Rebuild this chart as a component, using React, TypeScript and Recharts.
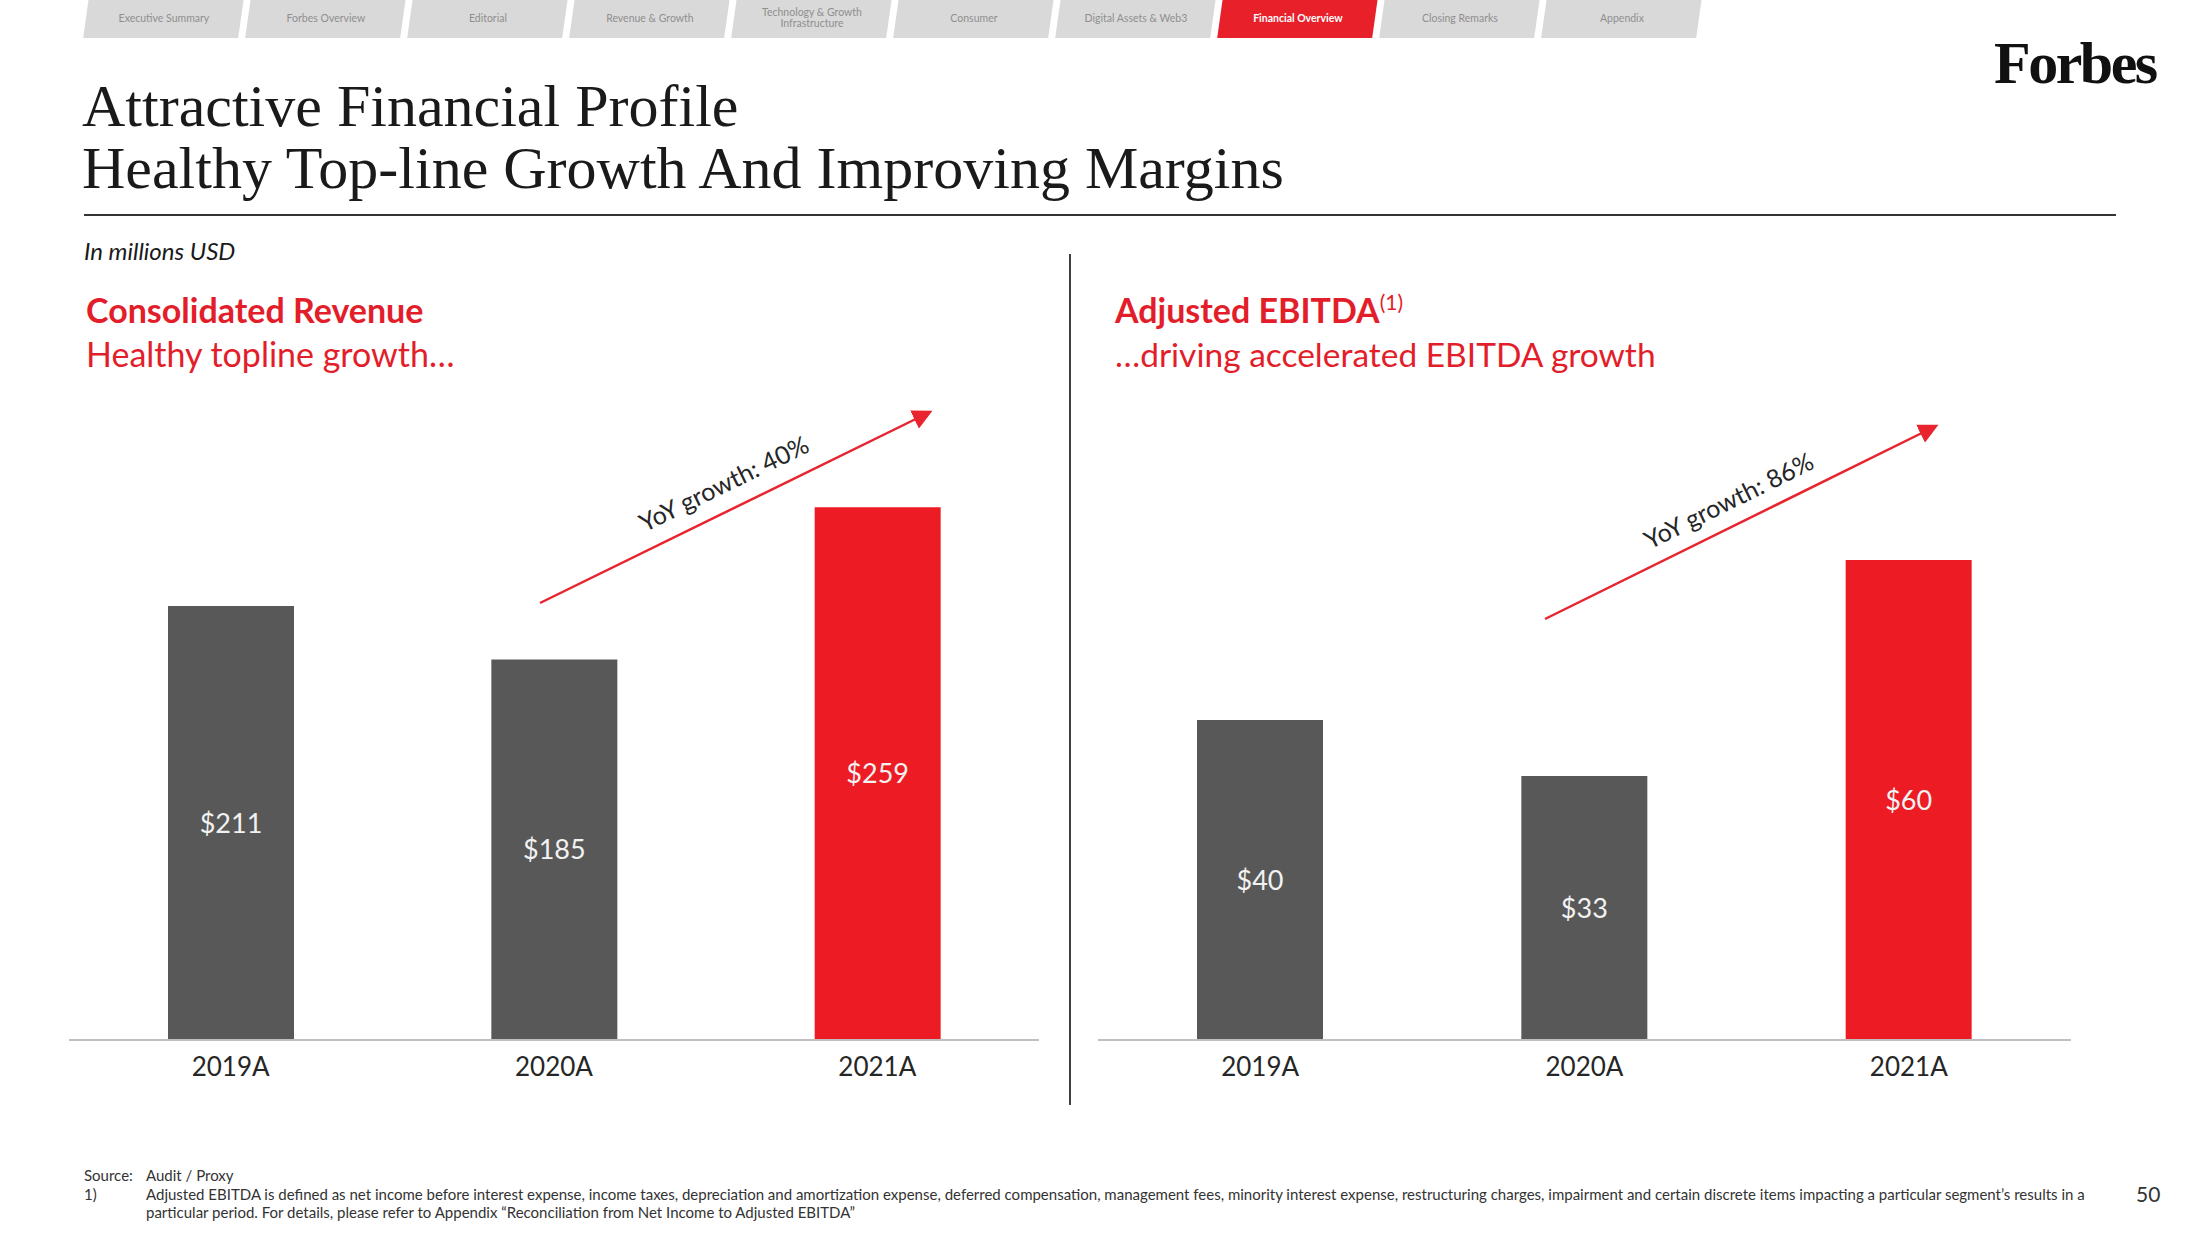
import React from 'react';
import { BarChart, Bar, XAxis, YAxis, Cell, LabelList } from 'recharts';

// values (millions USD)
const years = ['2019A', '2020A', '2021A'];
const revenue = [211, 185, 259];
const ebitda = [40, 33, 60];
const barColors = ['#585858', '#585858', '#ED1C24'];
const revenueGrowth = 'YoY growth: 40%';
const ebitdaGrowth = 'YoY growth: 86%';

const navTabs = [
  'Executive Summary',
  'Forbes Overview',
  'Editorial',
  'Revenue & Growth',
  'Technology & Growth Infrastructure',
  'Consumer',
  'Digital Assets & Web3',
  'Financial Overview',
  'Closing Remarks',
  'Appendix',
];
const activeTab = 'Financial Overview';

const RED = '#E31E2B';
const FONT = 'Lato, "Open Sans", sans-serif';

const revenueData = years.map((y, i) => ({ year: y, value: revenue[i] }));
const ebitdaData = years.map((y, i) => ({ year: y, value: ebitda[i] }));

type PanelProps = {
  data: { year: string; value: number }[];
  max: number;
  left: number;
  top: number;
  width: number;
  plotHeight: number;
};

const Panel = ({ data, max, left, top, width, plotHeight }: PanelProps) => (
  <div style={{ position: 'absolute', left, top }}>
    <BarChart
      width={width}
      height={plotHeight + 50}
      data={data}
      margin={{ top: 0, right: 0, bottom: 0, left: 0 }}
    >
      <XAxis
        dataKey="year"
        interval={0}
        height={50}
        tickLine={false}
        tickMargin={12}
        axisLine={{ stroke: '#bfbfbf', strokeWidth: 2 }}
        tick={{ fontSize: 26, fill: '#262626', fontFamily: FONT }}
      />
      <YAxis hide domain={[0, max]} />
      <Bar dataKey="value" barSize={126} isAnimationActive={false}>
        {data.map((d, i) => (
          <Cell key={d.year} fill={barColors[i]} />
        ))}
        <LabelList
          dataKey="value"
          position="center"
          formatter={(v: any) => `$${v}`}
          style={{ fontSize: 27, fill: '#f2f2f2', fontFamily: FONT }}
        />
      </Bar>
    </BarChart>
  </div>
);

const GrowthArrows = () => (
  <svg
    width={2200}
    height={1238}
    style={{ position: 'absolute', left: 0, top: 0, pointerEvents: 'none' }}
  >
    <defs>
      <marker id="head" markerWidth="8" markerHeight="8" refX="6" refY="4" orient="auto" markerUnits="strokeWidth">
        <path d="M0,0 L8,4 L0,8 z" fill="#E8242F" />
      </marker>
    </defs>
    <line x1={540} y1={603} x2={928} y2={413} stroke="#E8242F" strokeWidth={2.5} markerEnd="url(#head)" />
    <text
      x={725}
      y={486}
      textAnchor="middle"
      dominantBaseline="middle"
      transform="rotate(-26.1 725 486)"
      style={{ fontSize: 25, fill: '#262626', fontFamily: FONT }}
    >
      {revenueGrowth}
    </text>
    <line x1={1545} y1={619} x2={1934} y2={427} stroke="#E8242F" strokeWidth={2.5} markerEnd="url(#head)" />
    <text
      x={1730}
      y={503}
      textAnchor="middle"
      dominantBaseline="middle"
      transform="rotate(-26.3 1730 503)"
      style={{ fontSize: 25, fill: '#262626', fontFamily: FONT }}
    >
      {ebitdaGrowth}
    </text>
  </svg>
);

const App = () => {
  return (
    <div
      style={{
        position: 'relative',
        width: 2200,
        height: 1238,
        overflow: 'hidden',
        background: '#fff',
        fontFamily: FONT,
        color: '#262626',
      }}
    >
      <style>{`body{margin:0}`}</style>

      {/* section tabs */}
      {navTabs.map((t, i) => {
        const active = t === activeTab;
        return (
          <div
            key={t}
            style={{
              position: 'absolute',
              left: 86 + i * 162,
              top: -2,
              width: 155,
              height: 40,
              background: active ? '#E8202A' : '#d9d9d9',
              transform: 'skewX(-8deg)',
              display: 'flex',
              alignItems: 'center',
              justifyContent: 'center',
            }}
          >
            <span
              style={{
                transform: 'skewX(8deg)',
                fontSize: 10.5,
                lineHeight: '11px',
                textAlign: 'center',
                color: active ? '#fff' : '#8f8f8f',
                fontWeight: active ? 700 : 400,
                width: 110,
              }}
            >
              {t}
            </span>
          </div>
        );
      })}

      <div
        style={{
          position: 'absolute',
          left: 1994,
          top: 33,
          fontFamily: '"Liberation Serif", serif',
          fontWeight: 700,
          fontSize: 60,
          lineHeight: '60px',
          letterSpacing: -2.5,
          color: '#111',
        }}
      >
        Forbes
      </div>

      <div
        style={{
          position: 'absolute',
          left: 82,
          top: 75,
          fontFamily: '"Liberation Serif", serif',
          fontSize: 60,
          lineHeight: '62px',
          color: '#1a1a1a',
          whiteSpace: 'nowrap',
        }}
      >
        Attractive Financial Profile
        <br />
        Healthy Top-line Growth And Improving Margins
      </div>
      <div style={{ position: 'absolute', left: 84, top: 214, width: 2032, height: 2, background: '#333' }} />

      <div style={{ position: 'absolute', left: 84, top: 239, fontSize: 24, lineHeight: '24px', fontStyle: 'italic', color: '#1a1a1a' }}>
        In millions USD
      </div>

      <div style={{ position: 'absolute', left: 86, top: 293, color: RED, whiteSpace: 'nowrap' }}>
        <div style={{ fontSize: 34, lineHeight: '34px', fontWeight: 700 }}>Consolidated Revenue</div>
        <div style={{ fontSize: 34, lineHeight: '34px', marginTop: 10 }}>Healthy topline growth…</div>
      </div>

      <div style={{ position: 'absolute', left: 1115, top: 293, color: RED, whiteSpace: 'nowrap' }}>
        <div style={{ fontSize: 34, lineHeight: '34px', fontWeight: 700 }}>
          Adjusted EBITDA
          <span style={{ fontSize: 21, fontWeight: 400, position: 'relative', top: -13, lineHeight: 0 }}>(1)</span>
        </div>
        <div style={{ fontSize: 33.5, lineHeight: '34px', marginTop: 10 }}>…driving accelerated EBITDA growth</div>
      </div>

      <div style={{ position: 'absolute', left: 1069, top: 254, width: 2, height: 851, background: '#404040' }} />

      <Panel data={revenueData} max={300} left={69} top={423} width={970} plotHeight={617} />
      <Panel data={ebitdaData} max={70} left={1098} top={480} width={973} plotHeight={560} />

      <GrowthArrows />

      <div style={{ position: 'absolute', left: 84, top: 1166, fontSize: 15, lineHeight: '18.5px', color: '#333', whiteSpace: 'nowrap' }}>
        <div>
          <span style={{ display: 'inline-block', width: 62 }}>Source:</span>Audit / Proxy
        </div>
        <div style={{ display: 'flex' }}>
          <span style={{ display: 'inline-block', width: 62 }}>1)</span>
          <div>
            Adjusted EBITDA is defined as net income before interest expense, income taxes, depreciation and amortization expense, deferred compensation, management fees, minority interest expense, restructuring charges, impairment and certain discrete items impacting a particular segment’s results in a
            <br />
            particular period. For details, please refer to Appendix “Reconciliation from Net Income to Adjusted EBITDA”
          </div>
        </div>
      </div>
      <div style={{ position: 'absolute', left: 2136, top: 1182, fontSize: 21, lineHeight: '24px', color: '#333' }}>50</div>
    </div>
  );
};

export default App;
